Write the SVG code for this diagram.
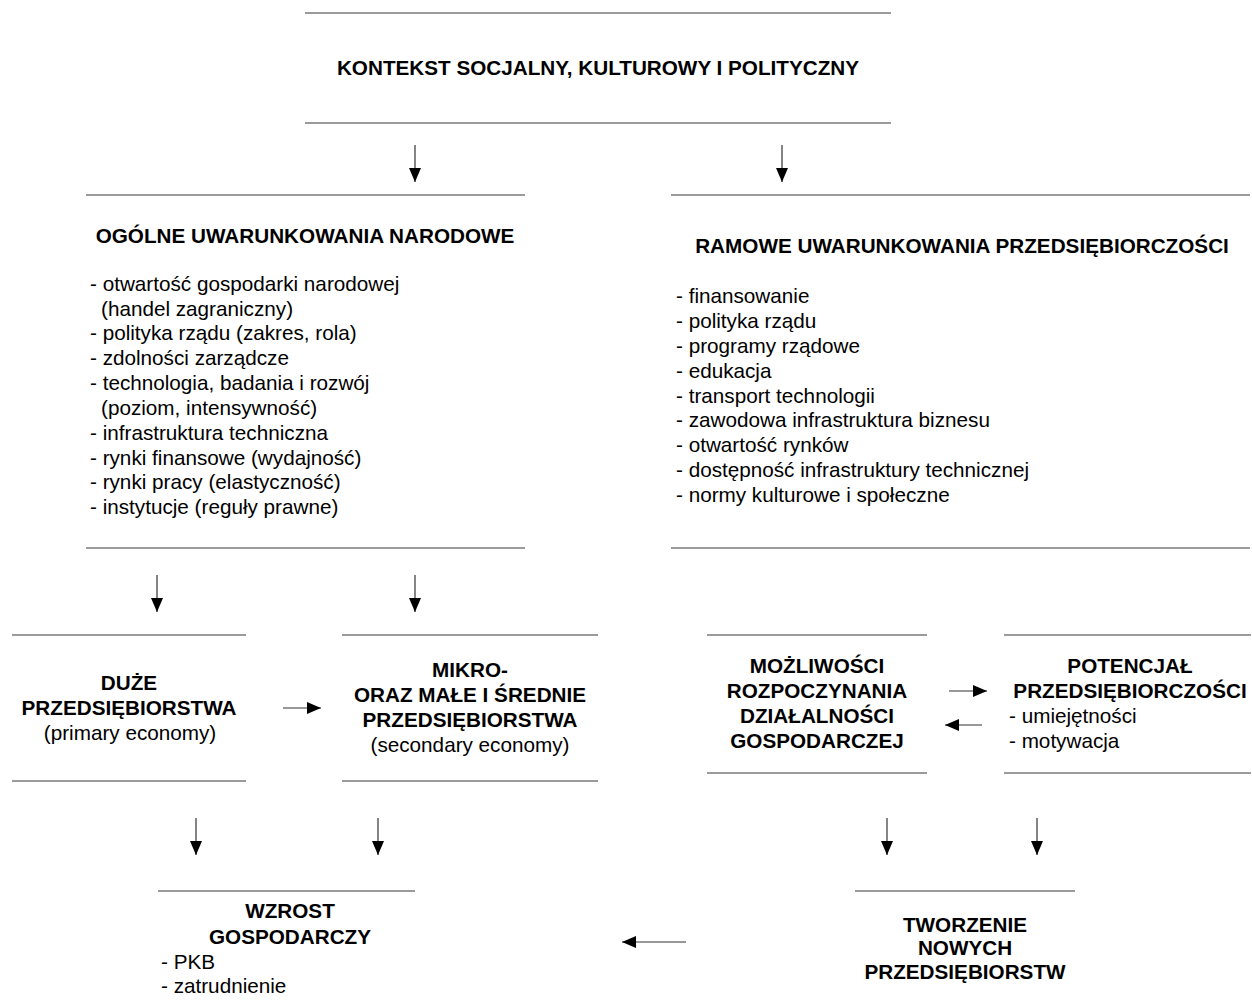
<svg xmlns="http://www.w3.org/2000/svg" width="1252" height="1002" viewBox="0 0 1252 1002">
<style>
.rule{stroke:#7a7a7a;stroke-width:1.5;fill:none}
.arr{stroke:#333;stroke-width:1.2;fill:none}
.t{font-family:"Liberation Sans",Arial,sans-serif;font-size:20.7px;fill:#000}
.b{font-weight:bold}
.c{text-anchor:middle}
</style>
<defs>
<marker id="ah" markerUnits="userSpaceOnUse" markerWidth="14" markerHeight="12" viewBox="0 0 14 12" refX="14" refY="6" orient="auto">
<path d="M0,0 L14,6 L0,12 Z" fill="#000"/>
</marker>
</defs>
<rect width="1252" height="1002" fill="#fff"/>

<g id="kontekst">
<line class="rule" x1="305" y1="13" x2="891" y2="13"/>
<line class="rule" x1="305" y1="123" x2="891" y2="123"/>
<text class="t b c" x="598" y="75">KONTEKST SOCJALNY, KULTUROWY I POLITYCZNY</text>
</g>

<g id="ogolne">
<line class="rule" x1="86" y1="195" x2="525" y2="195"/>
<line class="rule" x1="86" y1="548" x2="525" y2="548"/>
<text class="t b c" x="305" y="243">OGÓLNE UWARUNKOWANIA NARODOWE</text>
<text class="t" x="90" y="291">- otwartość gospodarki narodowej</text>
<text class="t" x="101" y="316">(handel zagraniczny)</text>
<text class="t" x="90" y="340">- polityka rządu (zakres, rola)</text>
<text class="t" x="90" y="365">- zdolności zarządcze</text>
<text class="t" x="90" y="390">- technologia, badania i rozwój</text>
<text class="t" x="101" y="415">(poziom, intensywność)</text>
<text class="t" x="90" y="440">- infrastruktura techniczna</text>
<text class="t" x="90" y="465">- rynki finansowe (wydajność)</text>
<text class="t" x="90" y="489">- rynki pracy (elastyczność)</text>
<text class="t" x="90" y="514">- instytucje (reguły prawne)</text>
</g>

<g id="ramowe">
<line class="rule" x1="671" y1="195" x2="1250" y2="195"/>
<line class="rule" x1="671" y1="548" x2="1250" y2="548"/>
<text class="t b c" x="962" y="253">RAMOWE UWARUNKOWANIA PRZEDSIĘBIORCZOŚCI</text>
<text class="t" x="676" y="303">- finansowanie</text>
<text class="t" x="676" y="328">- polityka rządu</text>
<text class="t" x="676" y="353">- programy rządowe</text>
<text class="t" x="676" y="378">- edukacja</text>
<text class="t" x="676" y="403">- transport technologii</text>
<text class="t" x="676" y="427">- zawodowa infrastruktura biznesu</text>
<text class="t" x="676" y="452">- otwartość rynków</text>
<text class="t" x="676" y="477">- dostępność infrastruktury technicznej</text>
<text class="t" x="676" y="502">- normy kulturowe i społeczne</text>
</g>

<g id="duze">
<line class="rule" x1="12" y1="635" x2="246" y2="635"/>
<line class="rule" x1="12" y1="781" x2="246" y2="781"/>
<text class="t b c" x="129" y="690">DUŻE</text>
<text class="t b c" x="129" y="715">PRZEDSIĘBIORSTWA</text>
<text class="t c" x="130" y="740">(primary economy)</text>
</g>

<g id="mikro">
<line class="rule" x1="342" y1="635" x2="598" y2="635"/>
<line class="rule" x1="342" y1="781" x2="598" y2="781"/>
<text class="t b c" x="470" y="677">MIKRO-</text>
<text class="t b c" x="470" y="702">ORAZ MAŁE I ŚREDNIE</text>
<text class="t b c" x="470" y="727">PRZEDSIĘBIORSTWA</text>
<text class="t c" x="470" y="752">(secondary economy)</text>
</g>

<g id="mozliwosci">
<line class="rule" x1="707" y1="635" x2="927" y2="635"/>
<line class="rule" x1="707" y1="773" x2="927" y2="773"/>
<text class="t b c" x="817" y="673">MOŻLIWOŚCI</text>
<text class="t b c" x="817" y="698">ROZPOCZYNANIA</text>
<text class="t b c" x="817" y="723">DZIAŁALNOŚCI</text>
<text class="t b c" x="817" y="748">GOSPODARCZEJ</text>
</g>

<g id="potencjal">
<line class="rule" x1="1004" y1="635" x2="1251" y2="635"/>
<line class="rule" x1="1004" y1="773" x2="1251" y2="773"/>
<text class="t b c" x="1130" y="673">POTENCJAŁ</text>
<text class="t b c" x="1130" y="698">PRZEDSIĘBIORCZOŚCI</text>
<text class="t" x="1009" y="723">- umiejętności</text>
<text class="t" x="1009" y="748">- motywacja</text>
</g>

<g id="wzrost">
<line class="rule" x1="158" y1="891" x2="415" y2="891"/>
<text class="t b c" x="290" y="918">WZROST</text>
<text class="t b c" x="290" y="944">GOSPODARCZY</text>
<text class="t" x="161" y="969">- PKB</text>
<text class="t" x="161" y="993">- zatrudnienie</text>
</g>

<g id="tworzenie">
<line class="rule" x1="855" y1="891" x2="1075" y2="891"/>
<text class="t b c" x="965" y="932">TWORZENIE</text>
<text class="t b c" x="965" y="955">NOWYCH</text>
<text class="t b c" x="965" y="979">PRZEDSIĘBIORSTW</text>
</g>

<g id="connectors">
<line class="arr" x1="415" y1="145" x2="415" y2="182" marker-end="url(#ah)"/>
<line class="arr" x1="782" y1="145" x2="782" y2="182" marker-end="url(#ah)"/>
<line class="arr" x1="157" y1="575" x2="157" y2="612" marker-end="url(#ah)"/>
<line class="arr" x1="415" y1="575" x2="415" y2="612" marker-end="url(#ah)"/>
<line class="arr" x1="283" y1="708" x2="321" y2="708" marker-end="url(#ah)"/>
<line class="arr" x1="949" y1="691" x2="987" y2="691" marker-end="url(#ah)"/>
<line class="arr" x1="982" y1="725" x2="945" y2="725" marker-end="url(#ah)"/>
<line class="arr" x1="196" y1="818" x2="196" y2="855" marker-end="url(#ah)"/>
<line class="arr" x1="378" y1="818" x2="378" y2="855" marker-end="url(#ah)"/>
<line class="arr" x1="887" y1="818" x2="887" y2="855" marker-end="url(#ah)"/>
<line class="arr" x1="1037" y1="818" x2="1037" y2="855" marker-end="url(#ah)"/>
<line class="arr" x1="686" y1="942" x2="622" y2="942" marker-end="url(#ah)"/>
</g>
</svg>
